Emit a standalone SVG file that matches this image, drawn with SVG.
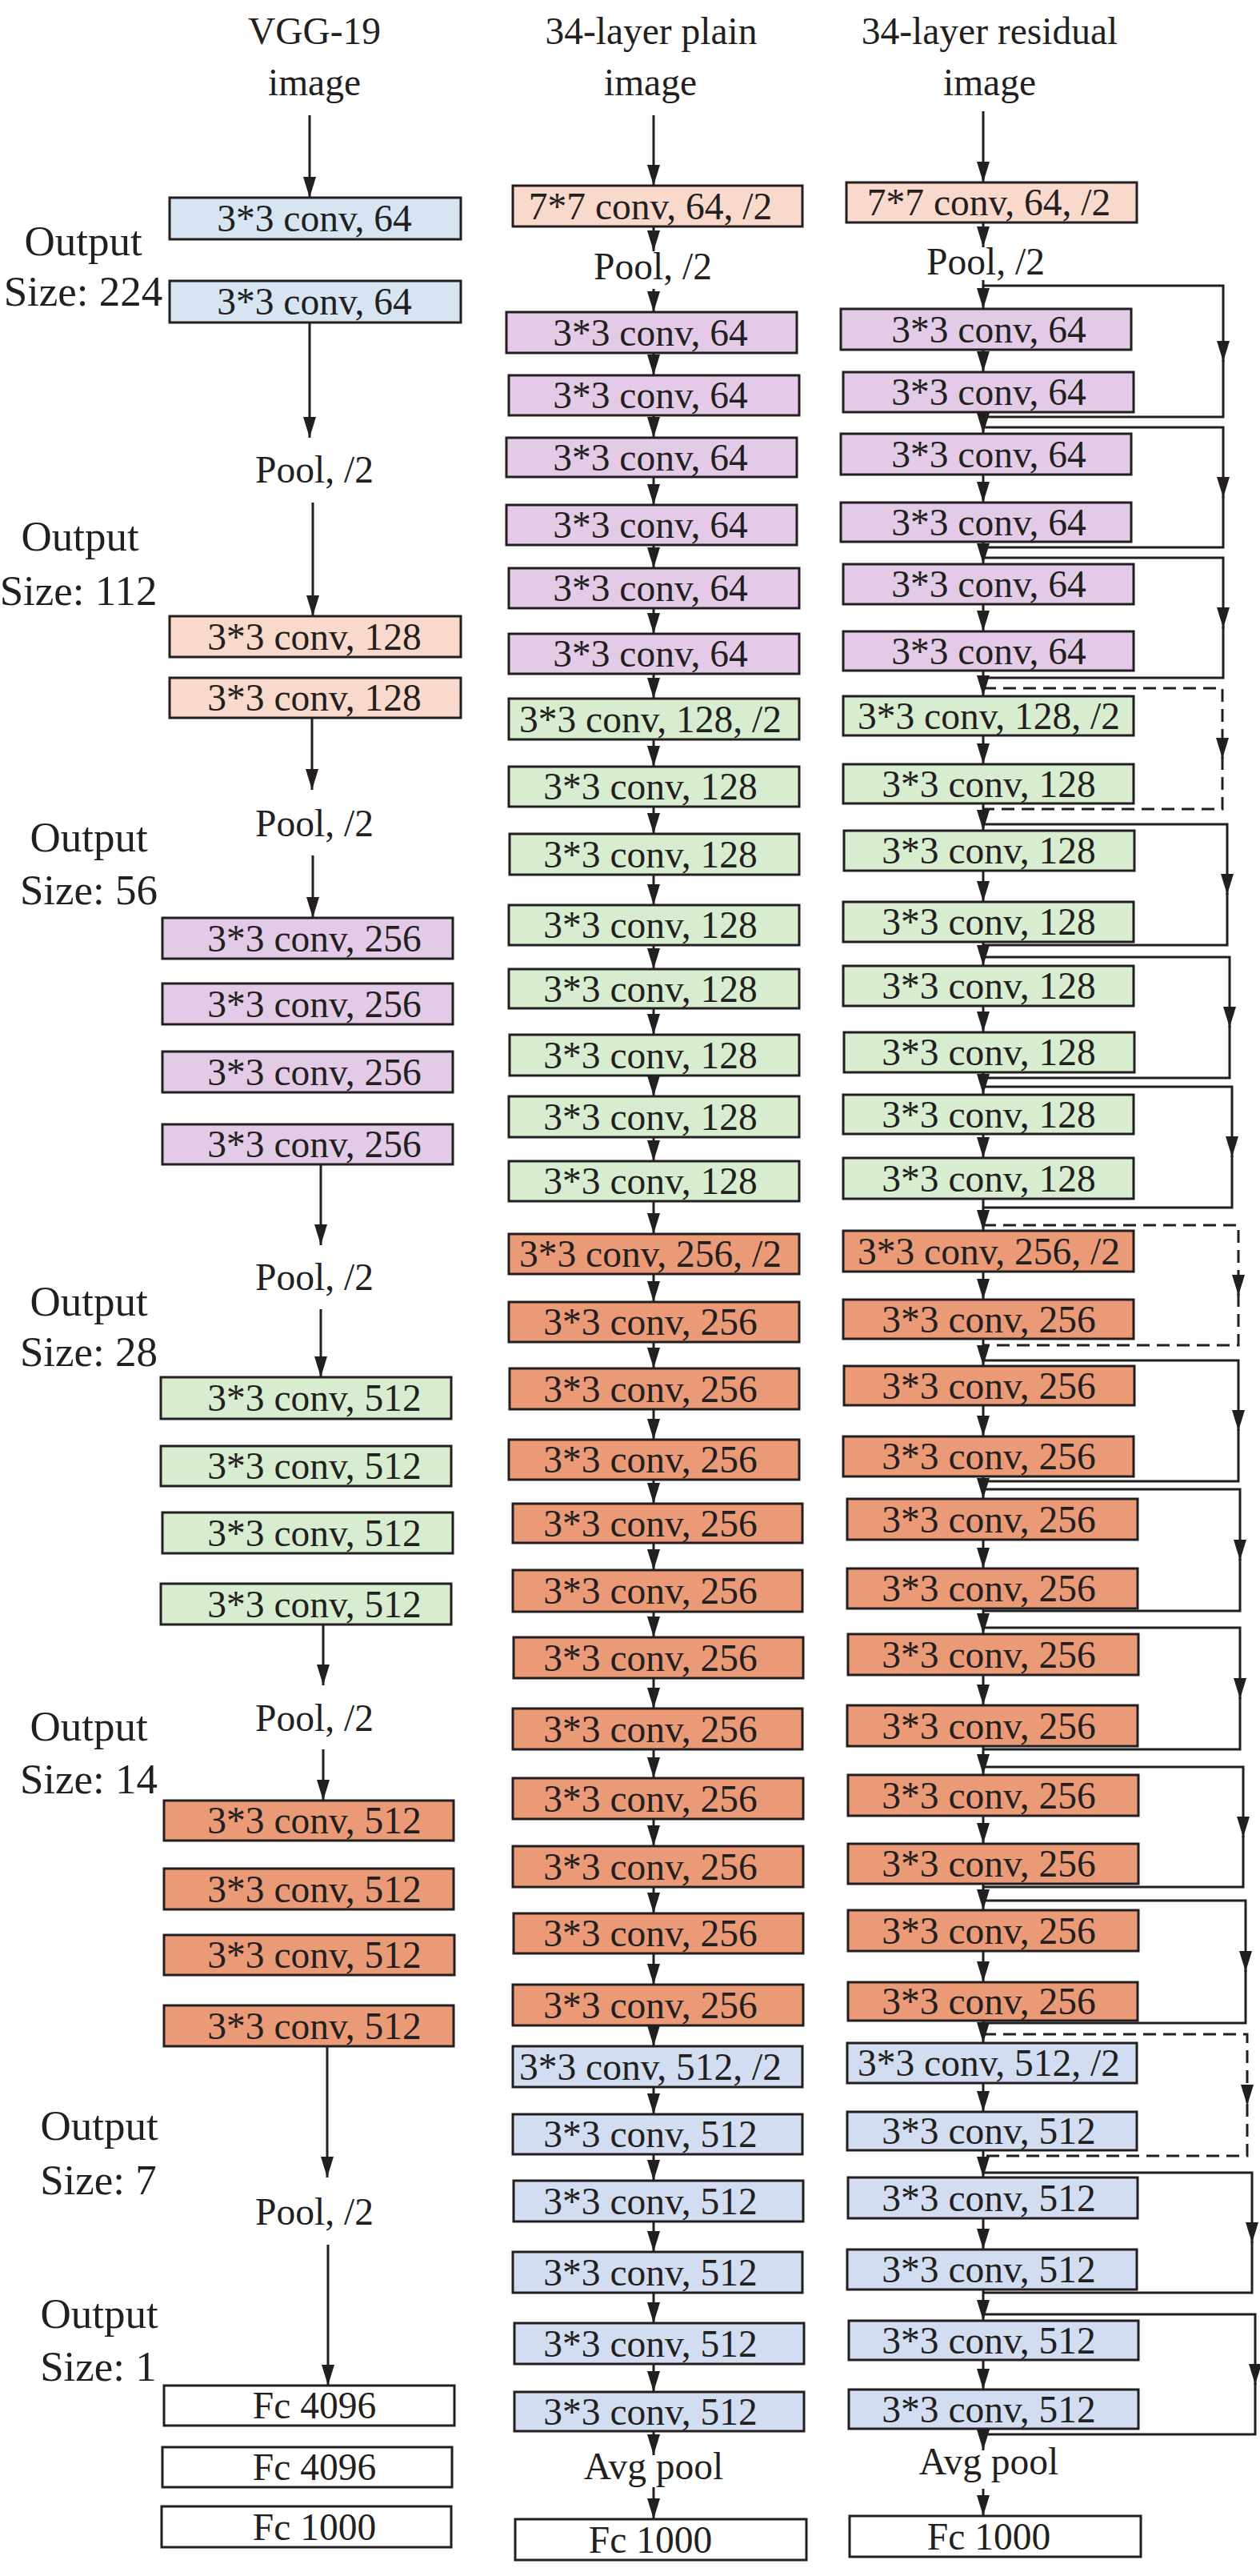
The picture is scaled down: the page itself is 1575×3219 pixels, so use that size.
<svg xmlns="http://www.w3.org/2000/svg" width="1575" height="3219" viewBox="0 0 1575 3219">
<style>
rect{stroke:#231f20;stroke-width:3}
.bl{fill:#d7e5f3}.pe{fill:#f9d9cb}.pu{fill:#e3cbe8}.gr{fill:#d8edd0}.or{fill:#ea9a76}.lv{fill:#d3ddf1}.wh{fill:#ffffff}
text{font-family:"Liberation Serif","Times New Roman",serif;font-size:47.5px;fill:#231f20;text-anchor:middle}
.o{font-size:53px}
.c{stroke:#231f20;stroke-width:3;fill:none;marker-end:url(#ah)}
.s{stroke:#231f20;stroke-width:3;fill:none}
.d{stroke-dasharray:16 9}
</style>
<defs>
<marker id="ah" markerUnits="userSpaceOnUse" markerWidth="26" markerHeight="16" viewBox="0 0 26 16" refX="26" refY="8" orient="auto"><path d="M0,0 L26,8 L0,16 z" fill="#231f20"/></marker>
</defs>
<rect x="0" y="0" width="1575" height="3219" fill="#ffffff" style="stroke:none"/>
<g id="labels">
<text x="393" y="55">VGG-19</text>
<text x="393" y="119">image</text>
<text x="814" y="55">34-layer plain</text>
<text x="813" y="119">image</text>
<text x="1237" y="55">34-layer residual</text>
<text x="1237" y="119">image</text>
<text class="o" x="104" y="319">Output</text>
<text class="o" x="104" y="382">Size: 224</text>
<text class="o" x="100" y="688">Output</text>
<text class="o" x="98" y="756">Size: 112</text>
<text class="o" x="111" y="1064">Output</text>
<text class="o" x="111" y="1130">Size: 56</text>
<text class="o" x="111" y="1644">Output</text>
<text class="o" x="111" y="1707">Size: 28</text>
<text class="o" x="111" y="2175">Output</text>
<text class="o" x="111" y="2241">Size: 14</text>
<text class="o" x="124" y="2674">Output</text>
<text class="o" x="123" y="2742">Size: 7</text>
<text class="o" x="124" y="2909">Output</text>
<text class="o" x="123" y="2975">Size: 1</text>
<text x="393" y="603">Pool, /2</text>
<text x="393" y="1045">Pool, /2</text>
<text x="393" y="1612">Pool, /2</text>
<text x="393" y="2163">Pool, /2</text>
<text x="393" y="2780">Pool, /2</text>
<text x="816" y="349">Pool, /2</text>
<text x="1232" y="343">Pool, /2</text>
<text x="817" y="3098">Avg pool</text>
<text x="1236" y="3092">Avg pool</text>
</g>
<g id="vgg">
<g id="v1"><rect class="bl" x="212" y="247" width="364" height="52"/><text x="393" y="289">3*3 conv, 64</text></g>
<g id="v2"><rect class="bl" x="212" y="351" width="364" height="52"/><text x="393" y="393">3*3 conv, 64</text></g>
<g id="v3"><rect class="pe" x="212" y="770" width="364" height="51"/><text x="393" y="811.5">3*3 conv, 128</text></g>
<g id="v4"><rect class="pe" x="212" y="847" width="364" height="50"/><text x="393" y="888">3*3 conv, 128</text></g>
<g id="v5"><rect class="pu" x="203" y="1147" width="363" height="51"/><text x="393" y="1188.5">3*3 conv, 256</text></g>
<g id="v6"><rect class="pu" x="203" y="1229" width="363" height="51"/><text x="393" y="1270.5">3*3 conv, 256</text></g>
<g id="v7"><rect class="pu" x="203" y="1314" width="363" height="51"/><text x="393" y="1355.5">3*3 conv, 256</text></g>
<g id="v8"><rect class="pu" x="203" y="1405" width="363" height="50"/><text x="393" y="1446">3*3 conv, 256</text></g>
<g id="v9"><rect class="gr" x="201" y="1721" width="363" height="52"/><text x="393" y="1763">3*3 conv, 512</text></g>
<g id="v10"><rect class="gr" x="201" y="1807" width="363" height="50"/><text x="393" y="1848">3*3 conv, 512</text></g>
<g id="v11"><rect class="gr" x="203" y="1890" width="363" height="51"/><text x="393" y="1931.5">3*3 conv, 512</text></g>
<g id="v12"><rect class="gr" x="201" y="1979" width="363" height="51"/><text x="393" y="2020.5">3*3 conv, 512</text></g>
<g id="v13"><rect class="or" x="205" y="2250" width="362" height="50"/><text x="393" y="2291">3*3 conv, 512</text></g>
<g id="v14"><rect class="or" x="205" y="2335" width="362" height="51"/><text x="393" y="2376.5">3*3 conv, 512</text></g>
<g id="v15"><rect class="or" x="205" y="2418" width="363" height="50"/><text x="393" y="2459">3*3 conv, 512</text></g>
<g id="v16"><rect class="or" x="205" y="2506" width="362" height="51"/><text x="393" y="2547.5">3*3 conv, 512</text></g>
<g id="v17"><rect class="wh" x="205" y="2981" width="363" height="50"/><text x="393" y="3022">Fc 4096</text></g>
<g id="v18"><rect class="wh" x="203" y="3058" width="362" height="50"/><text x="393" y="3099">Fc 4096</text></g>
<g id="v19"><rect class="wh" x="202" y="3132" width="362" height="51"/><text x="393" y="3173.5">Fc 1000</text></g>
</g>
<g id="plain">
<g id="p0"><rect class="pe" x="641" y="232" width="362" height="51"/><text x="813" y="273.5">7*7 conv, 64, /2</text></g>
<g id="p1"><rect class="pu" x="633" y="390" width="363" height="51"/><text x="813" y="431.5">3*3 conv, 64</text></g>
<g id="p2"><rect class="pu" x="636" y="469" width="363" height="50"/><text x="813" y="510">3*3 conv, 64</text></g>
<g id="p3"><rect class="pu" x="633" y="547" width="363" height="49"/><text x="813" y="587.5">3*3 conv, 64</text></g>
<g id="p4"><rect class="pu" x="633" y="631" width="363" height="50"/><text x="813" y="672">3*3 conv, 64</text></g>
<g id="p5"><rect class="pu" x="636" y="710" width="363" height="50"/><text x="813" y="751">3*3 conv, 64</text></g>
<g id="p6"><rect class="pu" x="636" y="792" width="363" height="50"/><text x="813" y="833">3*3 conv, 64</text></g>
<g id="p7"><rect class="gr" x="636" y="873" width="363" height="51"/><text x="813" y="914.5">3*3 conv, 128, /2</text></g>
<g id="p8"><rect class="gr" x="636" y="958" width="363" height="50"/><text x="813" y="999">3*3 conv, 128</text></g>
<g id="p9"><rect class="gr" x="637" y="1042" width="362" height="51"/><text x="813" y="1083.5">3*3 conv, 128</text></g>
<g id="p10"><rect class="gr" x="636" y="1131" width="363" height="50"/><text x="813" y="1172">3*3 conv, 128</text></g>
<g id="p11"><rect class="gr" x="636" y="1211" width="363" height="49"/><text x="813" y="1251.5">3*3 conv, 128</text></g>
<g id="p12"><rect class="gr" x="637" y="1293" width="362" height="51"/><text x="813" y="1334.5">3*3 conv, 128</text></g>
<g id="p13"><rect class="gr" x="636" y="1370" width="363" height="51"/><text x="813" y="1411.5">3*3 conv, 128</text></g>
<g id="p14"><rect class="gr" x="636" y="1451" width="363" height="50"/><text x="813" y="1492">3*3 conv, 128</text></g>
<g id="p15"><rect class="or" x="636" y="1542" width="363" height="50"/><text x="813" y="1583">3*3 conv, 256, /2</text></g>
<g id="p16"><rect class="or" x="636" y="1627" width="363" height="50"/><text x="813" y="1668">3*3 conv, 256</text></g>
<g id="p17"><rect class="or" x="637" y="1710" width="362" height="51"/><text x="813" y="1751.5">3*3 conv, 256</text></g>
<g id="p18"><rect class="or" x="636" y="1799" width="363" height="50"/><text x="813" y="1840">3*3 conv, 256</text></g>
<g id="p19"><rect class="or" x="641" y="1879" width="362" height="49"/><text x="813" y="1919.5">3*3 conv, 256</text></g>
<g id="p20"><rect class="or" x="641" y="1962" width="362" height="52"/><text x="813" y="2004">3*3 conv, 256</text></g>
<g id="p21"><rect class="or" x="642" y="2046" width="362" height="51"/><text x="813" y="2087.5">3*3 conv, 256</text></g>
<g id="p22"><rect class="or" x="641" y="2135" width="362" height="51"/><text x="813" y="2176.5">3*3 conv, 256</text></g>
<g id="p23"><rect class="or" x="641" y="2222" width="363" height="51"/><text x="813" y="2263.5">3*3 conv, 256</text></g>
<g id="p24"><rect class="or" x="641" y="2307" width="363" height="51"/><text x="813" y="2348.5">3*3 conv, 256</text></g>
<g id="p25"><rect class="or" x="642" y="2391" width="362" height="50"/><text x="813" y="2432">3*3 conv, 256</text></g>
<g id="p26"><rect class="or" x="641" y="2480" width="363" height="51"/><text x="813" y="2521.5">3*3 conv, 256</text></g>
<g id="p27"><rect class="lv" x="641" y="2557" width="362" height="51"/><text x="813" y="2598.5">3*3 conv, 512, /2</text></g>
<g id="p28"><rect class="lv" x="641" y="2642" width="362" height="50"/><text x="813" y="2683">3*3 conv, 512</text></g>
<g id="p29"><rect class="lv" x="642" y="2725" width="362" height="51"/><text x="813" y="2766.5">3*3 conv, 512</text></g>
<g id="p30"><rect class="lv" x="641" y="2814" width="362" height="51"/><text x="813" y="2855.5">3*3 conv, 512</text></g>
<g id="p31"><rect class="lv" x="643" y="2903" width="362" height="51"/><text x="813" y="2944.5">3*3 conv, 512</text></g>
<g id="p32"><rect class="lv" x="643" y="2989" width="362" height="49"/><text x="813" y="3029.5">3*3 conv, 512</text></g>
<g id="p33"><rect class="wh" x="644" y="3148" width="364" height="51"/><text x="813" y="3189.5">Fc 1000</text></g>
</g>
<g id="residual">
<g id="r0"><rect class="pe" x="1058" y="228" width="363" height="50"/><text x="1236" y="269">7*7 conv, 64, /2</text></g>
<g id="r1"><rect class="pu" x="1051" y="386" width="363" height="51"/><text x="1236" y="427.5">3*3 conv, 64</text></g>
<g id="r2"><rect class="pu" x="1054" y="465" width="363" height="50"/><text x="1236" y="506">3*3 conv, 64</text></g>
<g id="r3"><rect class="pu" x="1051" y="542" width="363" height="51"/><text x="1236" y="583.5">3*3 conv, 64</text></g>
<g id="r4"><rect class="pu" x="1051" y="628" width="363" height="49"/><text x="1236" y="668.5">3*3 conv, 64</text></g>
<g id="r5"><rect class="pu" x="1054" y="705" width="363" height="50"/><text x="1236" y="746">3*3 conv, 64</text></g>
<g id="r6"><rect class="pu" x="1054" y="789" width="363" height="49"/><text x="1236" y="829.5">3*3 conv, 64</text></g>
<g id="r7"><rect class="gr" x="1054" y="870" width="363" height="49"/><text x="1236" y="910.5">3*3 conv, 128, /2</text></g>
<g id="r8"><rect class="gr" x="1054" y="955" width="363" height="49"/><text x="1236" y="995.5">3*3 conv, 128</text></g>
<g id="r9"><rect class="gr" x="1055" y="1038" width="363" height="50"/><text x="1236" y="1079">3*3 conv, 128</text></g>
<g id="r10"><rect class="gr" x="1054" y="1127" width="363" height="50"/><text x="1236" y="1168">3*3 conv, 128</text></g>
<g id="r11"><rect class="gr" x="1054" y="1207" width="363" height="50"/><text x="1236" y="1248">3*3 conv, 128</text></g>
<g id="r12"><rect class="gr" x="1055" y="1290" width="363" height="50"/><text x="1236" y="1331">3*3 conv, 128</text></g>
<g id="r13"><rect class="gr" x="1054" y="1368" width="363" height="49"/><text x="1236" y="1408.5">3*3 conv, 128</text></g>
<g id="r14"><rect class="gr" x="1054" y="1447" width="363" height="51"/><text x="1236" y="1488.5">3*3 conv, 128</text></g>
<g id="r15"><rect class="or" x="1054" y="1538" width="363" height="51"/><text x="1236" y="1579.5">3*3 conv, 256, /2</text></g>
<g id="r16"><rect class="or" x="1054" y="1624" width="363" height="49"/><text x="1236" y="1664.5">3*3 conv, 256</text></g>
<g id="r17"><rect class="or" x="1055" y="1707" width="363" height="49"/><text x="1236" y="1747.5">3*3 conv, 256</text></g>
<g id="r18"><rect class="or" x="1054" y="1795" width="363" height="50"/><text x="1236" y="1836">3*3 conv, 256</text></g>
<g id="r19"><rect class="or" x="1059" y="1873" width="363" height="51"/><text x="1236" y="1914.5">3*3 conv, 256</text></g>
<g id="r20"><rect class="or" x="1059" y="1960" width="363" height="50"/><text x="1236" y="2001">3*3 conv, 256</text></g>
<g id="r21"><rect class="or" x="1060" y="2042" width="363" height="51"/><text x="1236" y="2083.5">3*3 conv, 256</text></g>
<g id="r22"><rect class="or" x="1059" y="2131" width="363" height="51"/><text x="1236" y="2172.5">3*3 conv, 256</text></g>
<g id="r23"><rect class="or" x="1060" y="2218" width="363" height="51"/><text x="1236" y="2259.5">3*3 conv, 256</text></g>
<g id="r24"><rect class="or" x="1060" y="2304" width="363" height="50"/><text x="1236" y="2345">3*3 conv, 256</text></g>
<g id="r25"><rect class="or" x="1060" y="2387" width="363" height="51"/><text x="1236" y="2428.5">3*3 conv, 256</text></g>
<g id="r26"><rect class="or" x="1060" y="2477" width="362" height="48"/><text x="1236" y="2517">3*3 conv, 256</text></g>
<g id="r27"><rect class="lv" x="1059" y="2553" width="362" height="50"/><text x="1236" y="2594">3*3 conv, 512, /2</text></g>
<g id="r28"><rect class="lv" x="1059" y="2639" width="362" height="48"/><text x="1236" y="2679">3*3 conv, 512</text></g>
<g id="r29"><rect class="lv" x="1060" y="2721" width="362" height="51"/><text x="1236" y="2762.5">3*3 conv, 512</text></g>
<g id="r30"><rect class="lv" x="1059" y="2811" width="362" height="50"/><text x="1236" y="2852">3*3 conv, 512</text></g>
<g id="r31"><rect class="lv" x="1061" y="2900" width="362" height="49"/><text x="1236" y="2940.5">3*3 conv, 512</text></g>
<g id="r32"><rect class="lv" x="1061" y="2986" width="362" height="49"/><text x="1236" y="3026.5">3*3 conv, 512</text></g>
<g id="r33"><rect class="wh" x="1062" y="3144" width="364" height="51"/><text x="1236" y="3185.5">Fc 1000</text></g>
</g>
<g id="connectors">
<path class="c" d="M387,144V247"/>
<path class="c" d="M387,403V547"/>
<path class="c" d="M391,628V770"/>
<path class="c" d="M390,897V987"/>
<path class="c" d="M391,1069V1147"/>
<path class="c" d="M401,1455V1556"/>
<path class="c" d="M401,1636V1721"/>
<path class="c" d="M404,2030V2106"/>
<path class="c" d="M404,2186V2250"/>
<path class="c" d="M409,2557V2721"/>
<path class="c" d="M410,2805V2981"/>
<path class="c" d="M817,144V232"/>
<path class="c" d="M817,283V314"/>
<path class="c" d="M817,361V390"/>
<path class="c" d="M817,441V469"/>
<path class="c" d="M817,519V547"/>
<path class="c" d="M817,596V631"/>
<path class="c" d="M817,681V710"/>
<path class="c" d="M817,760V792"/>
<path class="c" d="M817,842V873"/>
<path class="c" d="M817,924V958"/>
<path class="c" d="M817,1008V1042"/>
<path class="c" d="M817,1093V1131"/>
<path class="c" d="M817,1181V1211"/>
<path class="c" d="M817,1260V1293"/>
<path class="c" d="M817,1344V1370"/>
<path class="c" d="M817,1421V1451"/>
<path class="c" d="M817,1501V1542"/>
<path class="c" d="M817,1592V1627"/>
<path class="c" d="M817,1677V1710"/>
<path class="c" d="M817,1761V1799"/>
<path class="c" d="M817,1849V1879"/>
<path class="c" d="M817,1928V1962"/>
<path class="c" d="M817,2014V2046"/>
<path class="c" d="M817,2097V2135"/>
<path class="c" d="M817,2186V2222"/>
<path class="c" d="M817,2273V2307"/>
<path class="c" d="M817,2358V2391"/>
<path class="c" d="M817,2441V2480"/>
<path class="c" d="M817,2531V2557"/>
<path class="c" d="M817,2608V2642"/>
<path class="c" d="M817,2692V2725"/>
<path class="c" d="M817,2776V2814"/>
<path class="c" d="M817,2865V2903"/>
<path class="c" d="M817,2954V2989"/>
<path class="c" d="M817,3038V3068"/>
<path class="c" d="M817,3108V3148"/>
<path class="c" d="M1229,139V228"/>
<path class="c" d="M1229,278V309"/>
<path class="c" d="M1229,350V386"/>
<path class="c" d="M1229,437V465"/>
<path class="c" d="M1229,515V542"/>
<path class="c" d="M1229,593V628"/>
<path class="c" d="M1229,677V705"/>
<path class="c" d="M1229,755V789"/>
<path class="c" d="M1229,838V870"/>
<path class="c" d="M1229,919V955"/>
<path class="c" d="M1229,1004V1038"/>
<path class="c" d="M1229,1088V1127"/>
<path class="c" d="M1229,1177V1207"/>
<path class="c" d="M1229,1257V1290"/>
<path class="c" d="M1229,1340V1368"/>
<path class="c" d="M1229,1417V1447"/>
<path class="c" d="M1229,1498V1538"/>
<path class="c" d="M1229,1589V1624"/>
<path class="c" d="M1229,1673V1707"/>
<path class="c" d="M1229,1756V1795"/>
<path class="c" d="M1229,1845V1873"/>
<path class="c" d="M1229,1924V1960"/>
<path class="c" d="M1229,2010V2042"/>
<path class="c" d="M1229,2093V2131"/>
<path class="c" d="M1229,2182V2218"/>
<path class="c" d="M1229,2269V2304"/>
<path class="c" d="M1229,2354V2387"/>
<path class="c" d="M1229,2438V2477"/>
<path class="c" d="M1229,2525V2553"/>
<path class="c" d="M1229,2603V2639"/>
<path class="c" d="M1229,2687V2721"/>
<path class="c" d="M1229,2772V2811"/>
<path class="c" d="M1229,2861V2900"/>
<path class="c" d="M1229,2949V2986"/>
<path class="c" d="M1229,3035V3062"/>
<path class="c" d="M1229,3110V3144"/>
<path class="c" d="M1229,357H1529V452"/><path class="s" d="M1529,450V521H1229"/>
<path class="c" d="M1229,534H1529V622"/><path class="s" d="M1529,620V684H1229"/>
<path class="c" d="M1229,697H1529V785"/><path class="s" d="M1529,783V847H1229"/>
<path class="c d" d="M1229,860H1528V948"/><path class="s d" d="M1528,946V1011H1229"/>
<path class="c" d="M1229,1030H1534V1118"/><path class="s" d="M1534,1116V1181H1229"/>
<path class="c" d="M1229,1196H1537V1284"/><path class="s" d="M1537,1282V1347H1229"/>
<path class="c" d="M1229,1358H1540V1446"/><path class="s" d="M1540,1444V1509H1229"/>
<path class="c d" d="M1229,1531H1548V1619"/><path class="s d" d="M1548,1617V1681H1229"/>
<path class="c" d="M1229,1700H1548V1788"/><path class="s" d="M1548,1786V1851H1229"/>
<path class="c" d="M1229,1861H1550V1950"/><path class="s" d="M1550,1948V2013H1229"/>
<path class="c" d="M1229,2034H1550V2123"/><path class="s" d="M1550,2121V2186H1229"/>
<path class="c" d="M1229,2208H1554V2296"/><path class="s" d="M1554,2294V2358H1229"/>
<path class="c" d="M1229,2375H1557V2464"/><path class="s" d="M1557,2462V2528H1229"/>
<path class="c d" d="M1229,2542H1559V2631"/><path class="s d" d="M1559,2629V2694H1229"/>
<path class="c" d="M1229,2715H1565V2803"/><path class="s" d="M1565,2801V2865H1229"/>
<path class="c" d="M1229,2892H1569V2980"/><path class="s" d="M1569,2978V3042H1229"/>
</g>
</svg>
